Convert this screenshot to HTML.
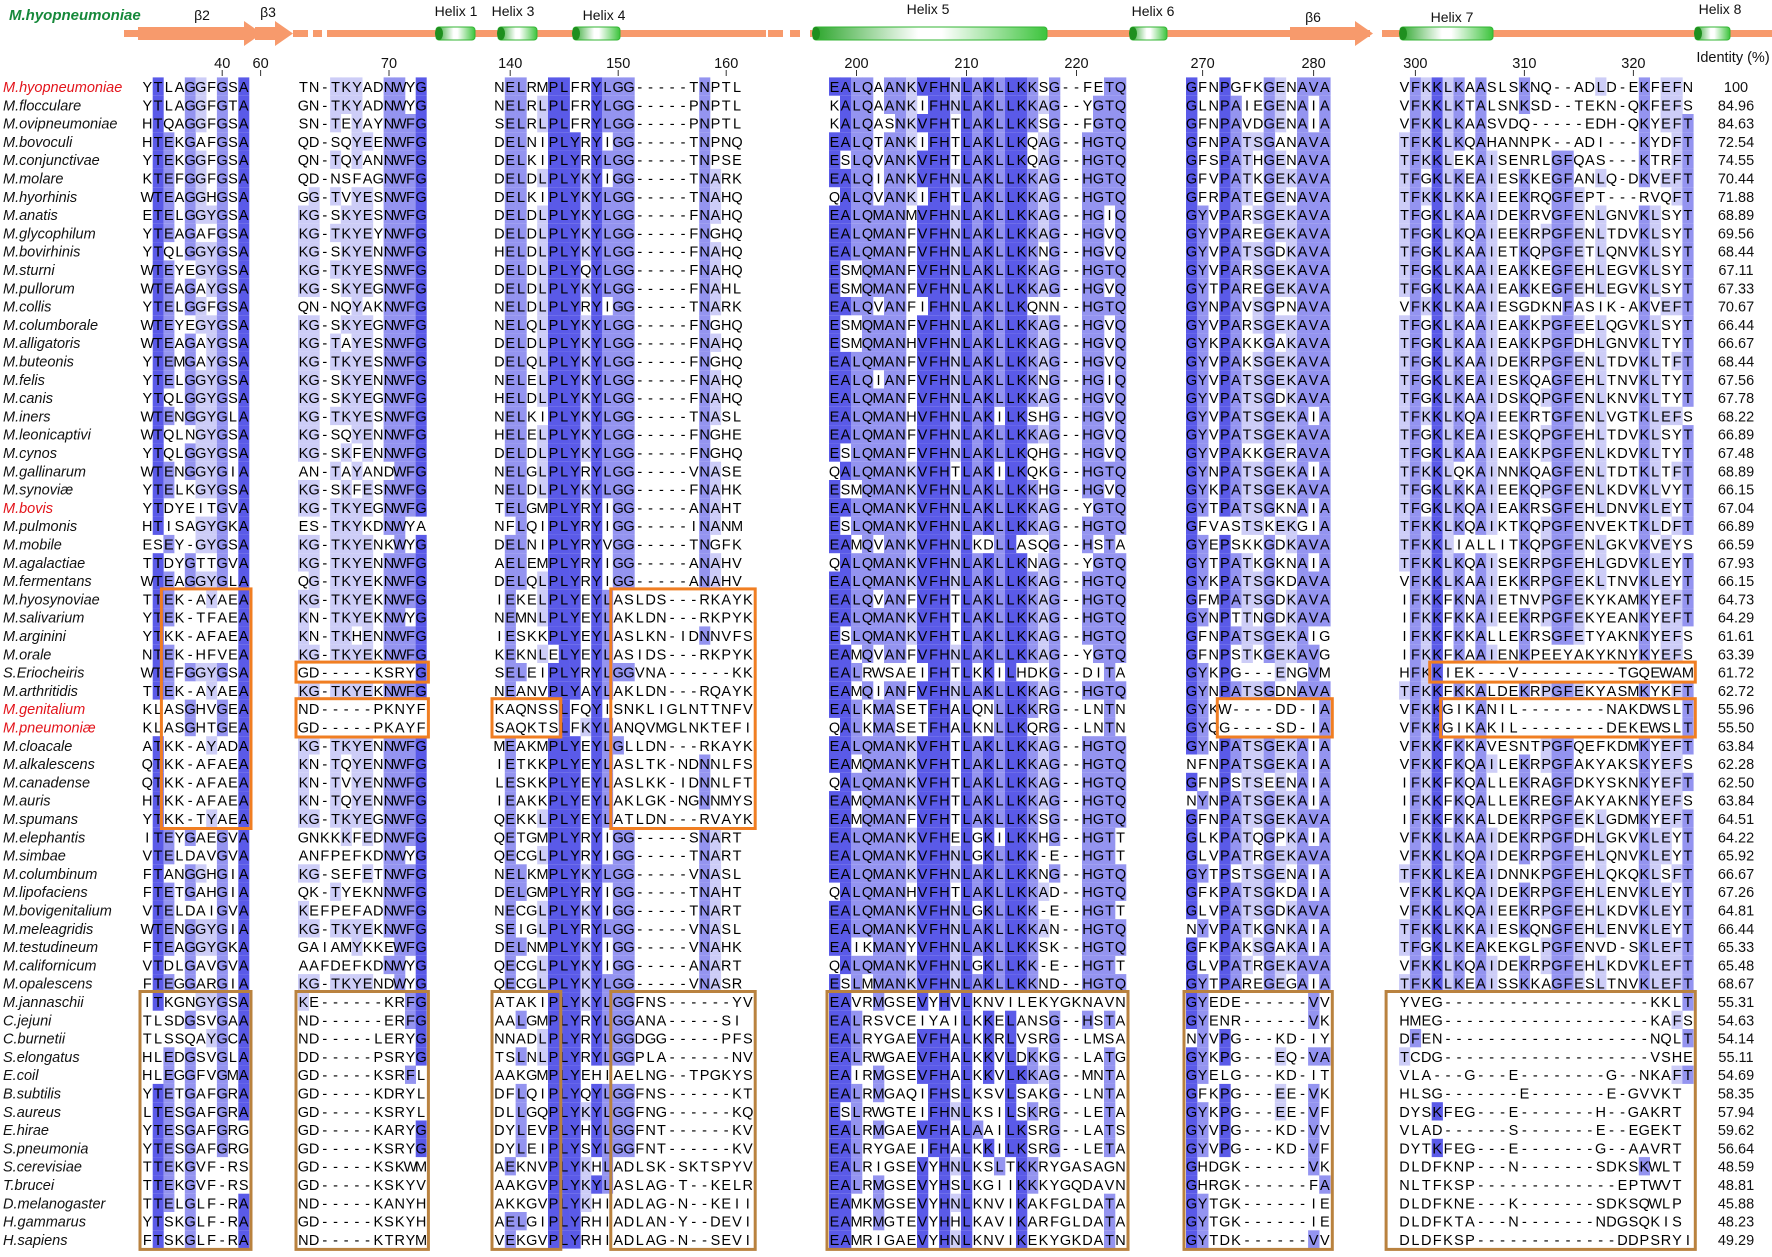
<!DOCTYPE html>
<html><head><meta charset="utf-8">
<style>
html,body{margin:0;padding:0;background:#fff;}
#wrap{position:relative;width:1772px;height:1257px;overflow:hidden;background:#fff;}
svg text{font-family:"Liberation Sans",Arial,sans-serif;}
</style></head>
<body>
<div id="wrap">
<svg id="fig" width="1772" height="1257" viewBox="0 0 1772 1257" xmlns="http://www.w3.org/2000/svg">
<defs>
<linearGradient id="hel" x1="0" y1="0" x2="1" y2="0">
<stop offset="0" stop-color="#2aa52a"/><stop offset="0.45" stop-color="#ffffff"/><stop offset="0.55" stop-color="#ffffff"/><stop offset="1" stop-color="#3cc43c"/>
</linearGradient>
</defs>
<g id="header"></g>
<g id="axis"></g>
<g id="cells"></g>
<g id="boxes"></g>
<g id="labels"></g>
</svg>
</div>
<script>
const names=["M.hyopneumoniae","M.flocculare","M.ovipneumoniae","M.bovoculi","M.conjunctivae","M.molare","M.hyorhinis","M.anatis","M.glycophilum","M.bovirhinis","M.sturni","M.pullorum","M.collis","M.columborale","M.alligatoris","M.buteonis","M.felis","M.canis","M.iners","M.leonicaptivi","M.cynos","M.gallinarum","M.synoviæ","M.bovis","M.pulmonis","M.mobile","M.agalactiae","M.fermentans","M.hyosynoviae","M.salivarium","M.arginini","M.orale","S.Eriocheiris","M.arthritidis","M.genitalium","M.pneumoniæ","M.cloacale","M.alkalescens","M.canadense","M.auris","M.spumans","M.elephantis","M.simbae","M.columbinum","M.lipofaciens","M.bovigenitalium","M.meleagridis","M.testudineum","M.californicum","M.opalescens","M.jannaschii","C.jejuni","C.burnetii","S.elongatus","E.coil","B.subtilis","S.aureus","E.hirae","S.pneumonia","S.cerevisiae","T.brucei","D.melanogaster","H.gammarus","H.sapiens"];
const redRows=[0,23,34,35];
const identity=["100","84.96","84.63","72.54","74.55","70.44","71.88","68.89","69.56","68.44","67.11","67.33","70.67","66.44","66.67","68.44","67.56","67.78","68.22","66.89","67.48","68.89","66.15","67.04","66.89","66.59","67.93","66.15","64.73","64.29","61.61","63.39","61.72","62.72","55.96","55.50","63.84","62.28","62.50","63.84","64.51","64.22","65.92","66.67","67.26","64.81","66.44","65.33","65.48","68.67","55.31","54.63","54.14","55.11","54.69","58.35","57.94","59.62","56.64","48.59","48.81","45.88","48.23","49.29"];
const block1=["YTLAGGFGSA","YTLAGGFGTA","HTQAGGFGSA","HTEKGAFGSA","YTEKGGFGSA","KTEFGGFGSA","WTEAGGHGSA","ETELGGYGSA","YTEAGAFGSA","YTQLGGYGSA","WTEYEGYGSA","WTEAGAYGSA","YTELGGFGSA","WTEYEGYGSA","WTEAGAYGSA","YTEMGAYGSA","YTELGGYGSA","YTQLGGYGSA","WTENGGYGLA","WTQLNGYGSA","YTQLGGYGSA","WTENGGYGIA","YTELKGYGSA","YTDYEITGVA","HTISAGYGKA","ESEY-GYGSA","TTDYGTTGVA","WTEAGGYGLA","TTEK-AYAEA","YTEK-TFAEA","YTKK-AFAEA","NTEK-HFVEA","WTEFGGYGSA","TTEK-AYAEA","KLASGHVGEA","KLASGHTGEA","ATKK-AYADA","QTKK-AFAEA","QTKK-AFAEA","HTKK-AFAEA","YTKK-TYAEA","ITEYGAEGVA","VTELDAVGVA","FTANGGHGIA","FTETGAHGIA","VTELDAIGVA","WTENGGYGIA","FTEAGGYGKA","VTDLGAVGVA","FTEGGARGIA","ITKGNGYGSA","TLSDGSVGAA","TLSSQAYGCA","HLEDGSVGLA","HLEGGFVGMA","YTETGAFGRA","LTESGAFGRA","YTESGAFGRG","YTESGAFGRG","TTEKGVF-RS","TTEKGVF-RS","TTELGLF-RA","YTSKGLF-RA","FTSKGLF-RA"];
const block2=["TN-TKYADNWYG","GN-TKYADNWYG","SN-TEYAYNWFG","QD-SQYEENWFG","QN-TQYANNWFG","QD-NSFAGNWFG","GG-TVYESNWFG","KG-SKYESNWFG","KG-TKYEYNWFG","KG-SKYENNWFG","KG-TKYESNWFG","KG-SKYEGNWFG","QN-NQYAKNWFG","KG-SKYEGNWFG","KG-TAYESNWFG","KG-TKYESNWFG","KG-SKYENNWFG","KG-SKYEGNWFG","KG-TKYESNWFG","KG-SQYENNWFG","KG-SKFENNWFG","AN-TAYANDWFG","KG-SKFESNWFG","KG-TKYEGNWFG","ES-TKYKDNWYA","KG-TKYENKWYG","KG-TKYENNWFG","QG-TKYEKNWFG","KG-TKYEKNWFG","KN-TKYEKNWYG","KN-TKHENNWFG","KG-TKYEKNWFG","GD-----KSRYG","KG-TKYEKNWFG","ND-----PKNYF","GD-----PKAYF","KG-TKYENNWFG","KN-TQYENNWFG","KN-TVYENNWFG","KN-TQYENNWFG","KG-TKYEGNWFG","GNKKKFEDNWFG","ANFPEFKDNWYG","KG-SEFETNWFG","QK-TYEKNNWFG","KEFPEFADNWFG","KG-TKYEKNWFG","GAIAMYKKEWFG","AAFDEFKDNWYG","KG-TKYENDWYG","KE------KRFG","ND------ERFG","ND-----LERYG","DD-----PSRYG","GD-----KSRFL","GD-----KDRYL","GD-----KSRYL","GD-----KARYG","GD-----KSRYG","GD-----KSKWM","GD-----KSKYV","ND-----KANYH","GD-----KSKYH","ND-----KTRYM"];
const block3=["NELRMPLFRYLGG-----TNPTL","NELRLPLFRYLGG-----PNPTL","SELRLPLFRYLGG-----PNPTL","DELNIPLYRYIGG-----TNPNQ","DELKIPLYRYLGG-----TNPSE","DELDLPLYKYIGG-----TNARK","DELKIPLYKYLGG-----TNAHQ","DELDLPLYKYLGG-----FNAHQ","DELDLPLYKYLGG-----FNGHQ","HELDLPLYKYLGG-----FNAHQ","DELDLPLYQYLGG-----FNAHQ","DELDLPLYKYLGG-----FNAHL","NELDLPLYRYIGG-----TNARK","NELQLPLYKYLGG-----FNGHQ","DELDLPLYKYLGG-----FNAHQ","DELQLPLYKYLGG-----FNGHQ","NELELPLYKYLGG-----FNAHQ","HELDLPLYKYLGG-----FNAHQ","NELKIPLYKYLGG-----TNASL","HELELPLYKYLGG-----FNGHE","DELDLPLYKYLGG-----FNGHQ","NELGLPLYRYLGG-----VNASE","NELDLPLYKYLGG-----FNAHK","TELGMPLYRYIGG-----ANAHT","NFLQIPLYRYIGG-----INANM","DELNIPLYRYVGG-----TNGFK","AELEMPLYRYIGG-----ANAHV","DELQLPLYRYIGG-----ANAHV","IEKELPLYEYLASLDS---RKAYK","NEMNLPLYEYLAKLDN---RKPYK","IESKKPLYEYLASLKN-IDNNVFS","KEKNLELYEYLASIDS---RKPYK","SELEIPLYRYLGGVNA------KK","NEANVPLYAYLAKLDN---RQAYK","KAQNSSLFQYISNKLIGLNTTNFV","SAQKTSLFKYLANQVMGLNKTEFI","MEAKMPLYEYLGLLDN---RKAYK","IETKKPLYEYLASLTK-NDNNLFS","LESKKPLYEYLASLKK-IDNNLFT","IEAKKPLYEYLAKLGK-NGNNMYS","QEKKLPLYEYLATLDN---RVAYK","QETGMPLYRYIGG-----SNART","QECGLPLYRYIGG-----TNART","NELKMPLYKYLGG-----VNASL","DELGMPLYRYIGG-----TNAHT","NECGLPLYKYIGG-----TNART","SEIGLPLYRYLGG-----VNASL","DELNMPLYKYIGG-----VNAHK","QECGLPLYKYIGG-----ANART","QECGLPLYKYLGG-----VNASR","ATAKIPLYKYLGGFNS------YV","AALGMPLYRYLGGANA-----SI","NNADLPLYRYLGGDGG-----PFS","TSLNLPLYRYLGGPLA------NV","AAKGMPLYEHIAELNG--TPGKYS","DFLQIPLYQYLGGFNS------KT","DLLGQPLYKYLGGFNG------KQ","DYLEVPLYHYLGGFNT------KV","DYLEIPLYSYLGGFNT------KV","AEKNVPLYKHLADLSK-SKTSPYV","AAKGVPLYKYLASLAG-T--KELR","AKKGVPLYKHIADLAG-N--KEII","AELGIPLYRHIADLAN-Y--DEVI","VEKGVPLYRHIADLAG-N--SEVI"];
const block4=["EALQAANKVFHNLAKLLKKSG--FETQ","KALQAANKIFHNLAKLLKKAG--YGTQ","KALQASNKVFHTLAKLLKKSG--FGTQ","EALQTANKIFHTLAKLLKQAG--HGTQ","ESLQVANKVFHTLAKLLKQAG--HGTQ","EALQIANKVFHNLAKLLKKAG--HGTQ","QALQVANKIFHTLAKLLKKAG--HGTQ","EALQMANMVFHNLAKLLKKAG--HGIQ","EALQMANFVFHNLAKLLKKAG--HGVQ","EALQMANFVFHNLAKLLKKNG--HGVQ","ESMQMANFVFHNLAKLLKKAG--HGTQ","ESMQMANFVFHNLAKLLKKAG--HGVQ","EALQVANFIFHNLAKLLKQNN--HGTQ","ESMQMANFVFHNLAKLLKKAG--HGVQ","ESMQMANHVFHNLAKLLKKAG--HGVQ","EALQMANFVFHNLAKLLKKAG--HGVQ","EALQIANFVFHNLAKLLKKNG--HGIQ","EALQMANFVFHNLAKLLKKAG--HGVQ","EALQMANHVFHNLAKILKSHG--HGVQ","EALQMANFVFHNLAKLLKKAG--HGVQ","ESLQMANFVFHNLAKLLKQHG--HGVQ","QALQMANKVFHTLAKILKQKG--HGTQ","ESMQMANKVFHNLAKLLKKHG--HGVQ","EALQMANKVFHNLAKLLKKAG--YGTQ","ESLQMANKVFHNLAKLLKKAG--HGTQ","EAMQVANKVFHNLKDLLASQG--HSTA","QALQMANKVFHNLAKLLKNAG--YGTQ","EALQMANKVFHNLAKLLKKAG--HGTQ","EALQVANFVFHTLAKLLKKAG--HGTQ","EALQMANKVFHTLAKLLKKAG--HGTQ","ESLQMANKVFHTLAKLLKKAG--HGTQ","EAMQVANFVFHNLAKLLKKAG--YGTQ","EALRWSAEIFHTLKKILHDKG--DITA","EAMQIANFVFHNLAKLLKKAG--HGTQ","EALKMASETFHALQNLLKKRG--LNTN","QALKMASETFHALKNLLKQRG--LNTN","EALQMANKVFHTLAKLLKKAG--HGTQ","EAMQMANKVFHTLAKLLKKAG--HGTQ","QALQMANKVFHTLAKLLKKAG--HGTQ","EAMQMANKVFHTLAKLLKKAG--HGTQ","EAMQMANFVFHTLAKLLKKSG--HGTQ","EALQMANKVFHELGKILKKHG--HGTT","EALQMANKVFHNLGKLLKK-E--HGTT","EALQMANKVFHNLAKLLKKNG--HGTQ","QALQMANHVFHTLAKLLKKAD--HGTQ","EALQMANKVFHNLGKLLKK-E--HGTT","EALQMANKVFHNLAKLLKKAN--HGTQ","EAIKMANYVFHNLAKLLKKSK--HGTQ","QALQMANKVFHNLGKLLKK-E--HGTT","ESLMMANKVFHNLAKLLKKND--HGTQ","EAVRMGSEVYHVLKNVILEKYGKNAVN","EALRSVCEIYAILKKELANSG--HSTA","EALRYGAEVFHALKKRLVSRG--LMSA","EALRWGAEVFHALKKVLDKKG--LATG","EAIRMGSEVFHALKKVLKKAG--MNTA","EALRMGAQIFHSLKSVLSAKG--LNTA","ESLRWGTEIFHNLKSILSKRG--LETA","EALRMGAEVFHALAAILKSRG--LATS","EALRYGAEIFHALKKILKSRG--LETA","EALRIGSEVYHNLKSLTKKRYGASAGN","EALRMGSEVYHSLKGIIKKKYGQDAVN","EAMKMGSEVYHNLKNVIKAKFGLDATA","EAMRMGTEVYHHLKAVIKARFGLDATA","EAMRIGAEVYHNLKNVIKEKYGKDATN"];
const block5=["GFNPGFKGENAVA","GLNPAIEGENAIA","GFNPAVDGENAIA","GFNPATSGANAVA","GFSPATHGENAVA","GFVPATKGEKAVA","GFRPATEGENAVA","GYVPARSGEKAVA","GYVPAREGEKAVA","GYVPATSGDKAVA","GYVPARSGEKAVA","GYTPAREGEKAVA","GYNPAVSGPNAVA","GYVPARSGEKAVA","GYKPAKKGAKAVA","GYVPAKSGEKAVA","GYVPATSGEKAVA","GYVPATSGDKAVA","GYVPATSGEKAIA","GYVPATSGEKAVA","GYVPAKKGERAVA","GYNPATSGEKAIA","GYKPATSGEKAVA","GYTPATSGKNAIA","GFVASTSKEKGIA","GYEPSKKGDKAVA","GYTPATKGKNAIA","GYKPATSGKDAVA","GFMPATSGDKAVA","GYNPTTNGDKAVA","GFNPATSGEKAIG","GFNPSTKGEKAVG","GYKPG---ENGVM","GYNPATSGDNAVA","GYKW----DD-IA","GYQG----SD-IA","GYNPATSGEKAIA","NFNPATSGEKAIA","GFNPSTSEENAIA","NYNPATSGEKAIA","GFNPATSGEKAVA","GLKPATQGPKAIA","GLVPATRGEKAVA","GYTPSTSGENAIA","GFKPATSGKDAIA","GLVPATSGDKAVA","NYVPATKGNKAIA","GFKPAKSGAKAIA","GLVPATRGEKAVA","GYTPAREGEGAIA","GYEDE------VV","GYENR------VK","NYVPG---KD-IY","GYKPG---EQ-VA","GYELG---KD-IT","GFKPG---EE-VK","GYKPG---EE-VF","GYVPG---KD-VV","GYVPG---KD-VF","GHDGK------VK","GHRGK------FA","GYTGK------IE","GYTGK------IE","GYTDK------VV"];
const block6=["VFKKLKAASLSKNQ--ADLD-EKFEFN","VFKKLKTALSNKSD--TEKN-QKFEFS","VFKKLKAASVDQ-----EDH-QKYEFT","TFKKLKQAHANNPK--ADI---KYDFT","TFKKLEKAISENRLGFQAS---KTRFT","TFGKLKEAIESKKEGFANLQ-DKVEFT","TFKKLKKAIEEKRQGFEPT---RVQFT","TFGKLKAAIDEKRVGFENLGNVKLSYT","TFGKLKQAIEEKRPGFENLTDVKLSYT","TFGKLKAAIETKQPGFETLQNVKLSYT","TFGKLKAAIEAKKEGFEHLEGVKLSYT","TFGKLKAAIEAKKEGFEHLEGVKLSYT","VFKKLKAAIESGDKNFASIK-AKVEFT","TFGKLKAAIEAKKPGFEELQGVKLSYT","TFGKLKAAIEAKKPGFDHLGNVKLTYT","TFGKLKAAIDEKRPGFENLTDVKLTFT","TFGKLKEAIESKQAGFEHLTNVKLTYT","TFGKLKAAIDSKQPGFENLKNVKLTYT","TFKKLKQAIEEKRTGFENLVGTKLEFS","TFGKLKEAIESKQPGFEHLTDVKLSYT","TFGKLKAAIEAKKPGFENLKDVKLTYT","TFKKLQKAINNKQAGFENLTDTKLTFT","TFGKLKKAIEEKQPGFENLKDVKLVYT","TFGKLKQAIEAKRSGFEHLDNVKLEYT","TFKKLKQAIKTKQPGFENVEKTKLDFT","TFKKLIALLITKQPGFENLGKVKVEYS","TFKKLKQAISEKRPGFEHLGDVKLEYT","VFKKLKAAIEKKRPGFEKLTNVKLEYT","IFKKFKNAIETNVPGFEKYKAMKYEFT","IFKKFKKAIEEKRPGFEKYEANKYEFT","IFKKFKKALLEKRSGFETYAKNKYEFS","IFKKFKAAIENKPEEYAKYKNYKYEFS","HFKKIEK---V---------TGQEWAM","TFKKFKKALDEKRPGFEKYASMKYKFT","VFKKGIKANIL--------NAKDWSLT","VFKKGIKAKIL--------DEKEWSLT","VFKKFKKAVESNTPGFQEFKDMKYEFT","VFKKFKQAILEKRPGFAKYAKSKYEFS","IFKKFKQALLEKRAGFDKYSKNKYEFT","IFKKFKQALLEKREGFAKYAKNKYEFS","IFKKFKKALDEKRPGFEKLGDMKYEFT","VFKKLKAAIDEKRPGFDHLGKVKLEYT","VFKKLKQAIDEKRPGFEHLQNVKLEYT","TFKKLKEAIDNNKPGFEHLQKQKLSFT","VFKKLKQAIDEKRPGFEHLENVKLEYT","VFKKLKQAIEEKRPGFEHLKDVKLEYT","TFKKLKKAIESKQNGFEHLENVKLEYT","TFGKLKEAKEKGLPGFENVD-SKLEFT","VFKKLKQAIDEKRPGFEHLKDVKLEFT","TFKKLKEAISSKKAGFESLTNVKLEFT","YVEG-------------------KKLT","HMEG-------------------KAFS","DFEN-------------------NQLT","TCDG-------------------VSHE","VLA---G---E--------G--NKAFT","HLSG-------E-------E-GVVKT","DYSKFEG---E-------H--GAKRT","VLAD------S-------E--EGEKT","DYTKFEG---E-------G--AAVRT","DLDFKNP---N-------SDKSKWLT","NLTFKSP-------------EPTWVT","DLDFKNE---K-------SDKSQWLP","DLDFKTA---N-------NDGSQKIS","DLDFKSP-------------DDPSRYIS"];
const tickLabels=["40","60","70","140","150","160","200","210","220","270","280","300","310","320"];
const tickPos=[[0,7],[1,-4],[1,8],[2,1],[2,11],[2,21],[3,2],[3,12],[3,22],[4,1],[4,11],[5,1],[5,11],[5,21]];

const NS="http://www.w3.org/2000/svg";
const blocks=[block1,block2,block3,block4,block5,block6];
const bx=[142,298,494,829,1186,1399];
const bcw=[10.7,10.7,10.8,11.0,11.1,10.9];
const bn=[10,12,24,27,13,27];
const ROW0=87, RH=18.3;
function rowY(i){return ROW0+i*RH;}
function colX(b,c){return bx[b]+c*bcw[b];}
function mk(tag,attrs,parent){const e=document.createElementNS(NS,tag);for(const k in attrs)e.setAttribute(k,attrs[k]);parent.appendChild(e);return e;}

const cells=document.getElementById('cells');
const nRows=names.length;
blocks.forEach((blk,b)=>{
  for(let c=0;c<bn[b];c++){
    const cnt={};
    blk.forEach(s=>{const ch=s[c];if(ch&&ch!=='-')cnt[ch]=(cnt[ch]||0)+1;});
    let best=null,bv=0;for(const k in cnt){if(cnt[k]>bv){bv=cnt[k];best=k;}}
    const frac=bv/nRows;
    let col=null;
    if(frac>0.8)col='#5a5ae8';else if(frac>0.6)col='#9494f0';else if(frac>0.4)col='#cdcdf7';
    blk.forEach((s,r)=>{
      if(col&&s[c]===best){
        const rc=mk('rect',{x:colX(b,c).toFixed(1),y:(rowY(r)-9.6).toFixed(1),width:(bcw[b]+0.3).toFixed(1),height:RH.toFixed(1),fill:col},cells);
        
        
      }
    });
  }
  blk.forEach((s,r)=>{
    const t=mk('text',{y:(rowY(r)+5).toFixed(1),'font-size':'14.5',fill:'#000'},cells);
    
    
    const str=s.slice(0,bn[b]);
    const xs=[];for(let c=0;c<str.length;c++)xs.push((colX(b,c)+bcw[b]/2).toFixed(1));
    t.setAttribute('x',xs.join(' '));
    t.setAttribute('text-anchor','middle');
    // per-char positioning via tspans
    t.removeAttribute('text-anchor');
    for(let c=0;c<str.length;c++){
      const ts=mk('tspan',{x:xs[c],'text-anchor':'middle'},t);
      ts.textContent=str[c];
    }
  });
});

// labels
const labels=document.getElementById('labels');
names.forEach((n,i)=>{
  const t=mk('text',{x:3,y:(rowY(i)+5).toFixed(1),'font-size':'14.5','font-style':'italic',fill:redRows.includes(i)?'#e3141b':'#111'},labels);
  
  
  t.textContent=n;
  const v=mk('text',{x:1736,y:(rowY(i)+5).toFixed(1),'font-size':'14.5','text-anchor':'middle',fill:'#111'},labels);
  
  
  v.textContent=identity[i];
});
const ih=mk('text',{x:1733,y:62,'font-size':'14.5','text-anchor':'middle',fill:'#111'},labels);


ih.textContent='Identity (%)';

// axis
const axis=document.getElementById('axis');
tickLabels.forEach((lab,i)=>{
  const [b,c]=tickPos[i];
  const x=colX(b,c)+bcw[b]/2;
  const t=mk('text',{x:x.toFixed(1),y:68,'font-size':'14.5','text-anchor':'middle',fill:'#111'},axis);
  
  
  t.textContent=lab;
  const l=mk('line',{x1:x.toFixed(1),x2:x.toFixed(1),y1:70,y2:76,stroke:'#333','stroke-width':1},axis);
  
  
});

// boxes
const boxes=document.getElementById('boxes');
function box(b,c0,c1,r0,r1,color,nm){
  const x0=colX(b,c0)-2,x1=colX(b,c1+1)+2;
  const y0=rowY(r0)-10.5,y1=rowY(r1)+9.5;
  const r=mk('rect',{x:x0.toFixed(1),y:y0.toFixed(1),width:(x1-x0).toFixed(1),height:(y1-y0).toFixed(1),fill:'none',stroke:color,'stroke-width':3},boxes);
  
  
}
const OR='#f07e22',BR='#b9823f';
box(0,2,9,28,40,OR,'insertion-box');
box(1,0,11,32,32,OR,'insertion-box');
box(1,0,11,34,35,OR,'insertion-box');
box(2,0,5,34,35,OR,'insertion-box');
box(2,11,23,28,40,OR,'insertion-box');
box(4,3,12,34,35,OR,'insertion-box');
box(5,3,26,32,32,OR,'insertion-box');
box(5,4,26,34,35,OR,'insertion-box');
box(0,0,9,50,63,BR,'outgroup-box');
box(1,0,11,50,63,BR,'outgroup-box');
box(2,0,5,50,63,BR,'outgroup-box');
box(2,11,23,50,63,BR,'outgroup-box');
box(3,0,26,50,63,BR,'outgroup-box');
box(4,0,12,50,63,BR,'outgroup-box');
box(5,-1,26,50,63,BR,'outgroup-box');

// header secondary structure
const hd=document.getElementById('header');
const sp=mk('text',{x:9,y:20,'font-size':'15','font-style':'italic','font-weight':'bold',fill:'#16893a'},hd);


sp.textContent='M.hyopneumoniae';
const ORG='#f79a6c';
const segs=[[124,236],[327,766],[810,1370],[1388,1772]];
segs.forEach(s=>{const r=mk('rect',{x:s[0],y:30,width:s[1]-s[0],height:7,fill:ORG},hd);
});
[[293,308],[313,322],[768,783],[790,800],[1382,1390]].forEach(s=>{const r=mk('rect',{x:s[0],y:30,width:s[1]-s[0],height:7,fill:ORG},hd);
});
function arrow(x0,x1,nm){const p=mk('path',{d:`M${x0} 27 L${x1-18} 27 L${x1-18} 21 L${x1} 33.5 L${x1-18} 46 L${x1-18} 40 L${x0} 40 Z`,fill:ORG},hd);
}
arrow(138,262,'beta2-arrow');arrow(255,293,'beta3-arrow');arrow(1290,1373,'beta6-arrow');
function helix(x0,x1,nm){
  const g=mk('g',{},hd);
  mk('rect',{x:x0,y:27,width:x1-x0,height:13,rx:3,fill:'url(#hel)',stroke:'#33b533','stroke-width':1},g);
  mk('ellipse',{cx:x0+3,cy:33.5,rx:4,ry:6.5,fill:'#1f8f1f'},g);
}
helix(436,475,'helix1');helix(498,537,'helix3');helix(573,620,'helix4');
helix(813,1047,'helix5');helix(1130,1167,'helix6');helix(1400,1493,'helix7');helix(1695,1730,'helix8');
[["β2",303-"".length,20],["β3",268,17],["Helix 1",456,16],["Helix 3",513,16],["Helix 4",604,20],["Helix 5",928,14],["Helix 6",1153,16],["β6",1313,22],["Helix 7",1452,22],["Helix 8",1720,14]].forEach(a=>{
  const x = a[0]==="β2"?202:a[1];
  const t=mk('text',{x:x,y:a[2],'font-size':'14','text-anchor':'middle',fill:'#111'},hd);
  
  
  t.textContent=a[0];
});
</script>
</body></html>
